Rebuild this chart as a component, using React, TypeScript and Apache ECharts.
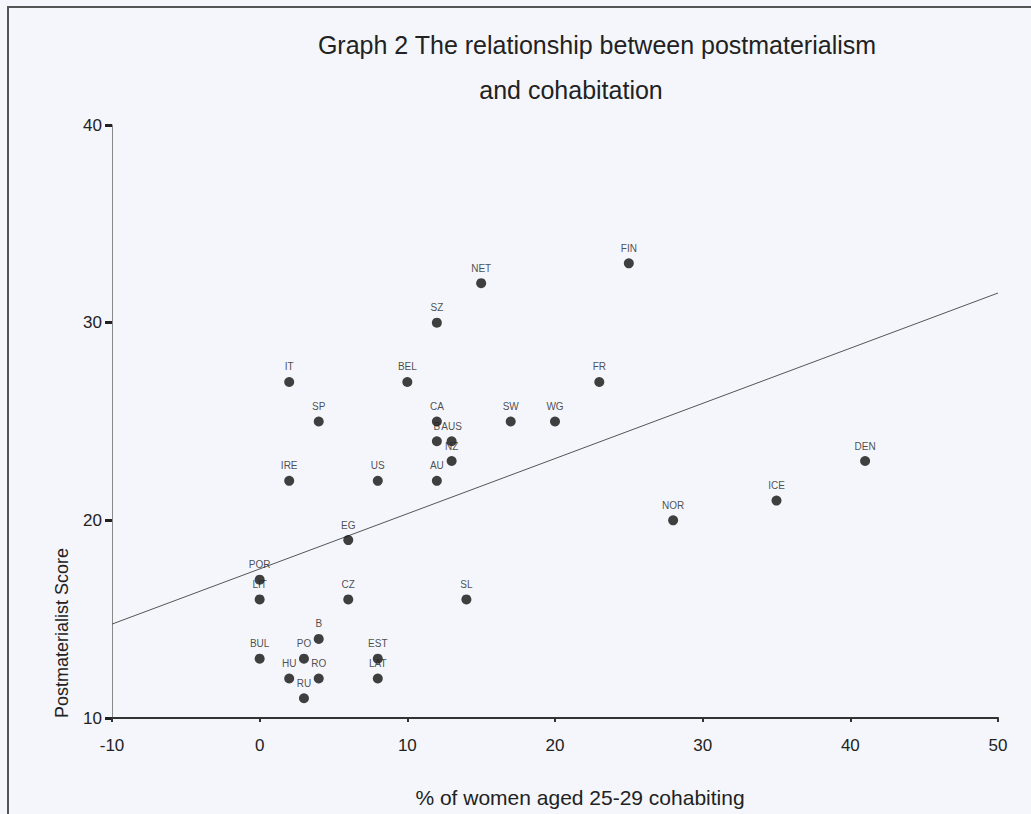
import React, { useEffect, useRef } from "react";
import * as echarts from "echarts";

const countries = ["FIN", "NET", "SZ", "IT", "BEL", "FR", "SP", "CA", "SW", "WG", "B", "AUS", "NZ", "DEN", "IRE", "US", "AU", "ICE", "NOR", "EG", "POR", "LIT", "CZ", "SL", "B", "BUL", "PO", "EST", "HU", "RO", "LAT", "RU"];
const cohabiting = [25, 15, 12, 2, 10, 23, 4, 12, 17, 20, 12, 13, 13, 41, 2, 8, 12, 35, 28, 6, 0, 0, 6, 14, 4, 0, 3, 8, 2, 4, 8, 3];
const postmat = [33, 32, 30, 27, 27, 27, 25, 25, 25, 25, 24, 24, 23, 23, 22, 22, 22, 21, 20, 19, 17, 16, 16, 16, 14, 13, 13, 13, 12, 12, 12, 11];
const fitX = [-10, 50];
const fitY = [14.75, 31.5];
const xTicks = [-10, 0, 10, 20, 30, 40, 50];
const yTicks = [10, 20, 30, 40];

export default function App() {
  const ref = useRef<HTMLDivElement>(null);
  useEffect(() => {
    if (!ref.current) return;
    const chart = echarts.init(ref.current, null, { renderer: "svg" });
    const font = "'Liberation Sans', Arial, sans-serif";
    chart.setOption({
      animation: false,
      backgroundColor: "#f4f6fb",
      grid: { left: 112, right: 33, top: 125, bottom: 96 },
      xAxis: {
        type: "value",
        min: xTicks[0],
        max: xTicks[xTicks.length - 1],
        interval: 10,
        splitLine: { show: false },
        axisLine: { show: true, onZero: false, lineStyle: { color: "#333", width: 2 } },
        axisTick: { show: true, length: 4, lineStyle: { color: "#333", width: 2 } },
        axisLabel: { color: "#222", fontSize: 17, fontFamily: font, margin: 19 },
      },
      yAxis: {
        type: "value",
        min: yTicks[0],
        max: yTicks[yTicks.length - 1],
        interval: 10,
        splitLine: { show: false },
        axisLine: { show: true, onZero: false, lineStyle: { color: "#888", width: 1 } },
        axisTick: { show: true, length: 7, lineStyle: { color: "#222", width: 3 } },
        axisLabel: { color: "#222", fontSize: 17, fontFamily: font, margin: 10 },
      },
      series: [
        {
          type: "line",
          data: fitX.map((x, i) => [x, fitY[i]]),
          symbol: "none",
          lineStyle: { color: "#555", width: 1 },
          z: 1,
        },
        {
          type: "scatter",
          symbolSize: 10,
          itemStyle: { color: "#111" },
          data: countries.map((c, i) => ({ name: c, value: [cohabiting[i], postmat[i]] })),
          label: {
            show: true,
            position: "top",
            distance: 5,
            formatter: "{b}",
            fontSize: 10,
            fontFamily: font,
            color: "#222",
          },
          z: 3,
        },
      ],
      graphic: [
        { type: "line", shape: { x1: 7, y1: 7, x2: 1031, y2: 7 }, style: { stroke: "#555", lineWidth: 2 } },
        { type: "line", shape: { x1: 8, y1: 7, x2: 8, y2: 814 }, style: { stroke: "#555", lineWidth: 2 } },
        {
          type: "text",
          x: 597,
          y: 45,
          style: { text: "Graph 2 The relationship between postmaterialism", fontSize: 25, fontFamily: font, fill: "#222", align: "center", verticalAlign: "middle" },
        },
        {
          type: "text",
          x: 571,
          y: 90,
          style: { text: "and cohabitation", fontSize: 25, fontFamily: font, fill: "#222", align: "center", verticalAlign: "middle" },
        },
        {
          type: "text",
          x: 62,
          y: 633,
          rotation: Math.PI / 2,
          style: { text: "Postmaterialist Score", fontSize: 18, fontFamily: font, fill: "#222", align: "center", verticalAlign: "middle" },
        },
        {
          type: "text",
          x: 580,
          y: 797,
          style: { text: "% of women aged 25-29 cohabiting", fontSize: 21, fontFamily: font, fill: "#222", align: "center", verticalAlign: "middle" },
        },
      ],
    });
    return () => chart.dispose();
  }, []);
  return <div ref={ref} style={{ position: "fixed", left: 0, top: 0, width: 1031, height: 814 }} />;
}
